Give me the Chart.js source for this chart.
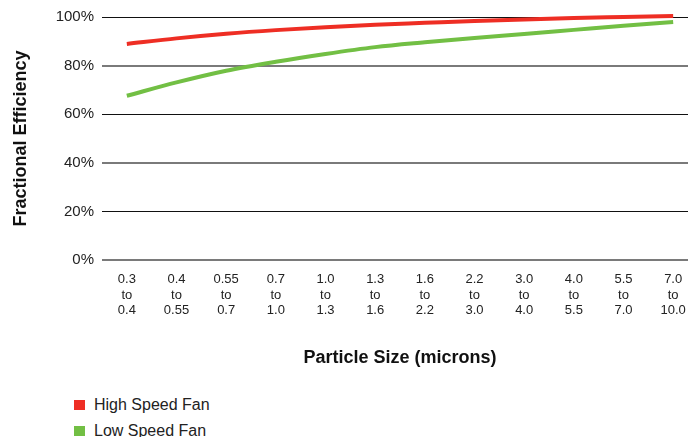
<!DOCTYPE html>
<html>
<head>
<meta charset="utf-8">
<script src="https://cdn.jsdelivr.net/npm/chart.js@4/dist/chart.umd.min.js"></script>
<style>
  html, body { margin: 0; padding: 0; background: #fff; overflow: hidden; width: 688px; height: 437px; }
  #wrap { position: relative; width: 688px; height: 437px; overflow: hidden; }
  canvas { position: absolute; left: 0; top: 0; }
  .legend-item { position: absolute; left: 74px; height: 20px; font: 16px "Liberation Sans", Arial, sans-serif; color: #222; white-space: nowrap; }
  .legend-item .box { position: absolute; left: 0; top: 5px; width: 11px; height: 10px; }
  .legend-item .txt { position: absolute; left: 20px; top: 0; line-height: 20px; }
</style>
</head>
<body>
<div id="wrap">
  <canvas class="fan-chart" width="705" height="380" style="width:705px;height:380px"></canvas>
  <div id="legend"></div>
</div>
<script>
const ctx = document.querySelector('.fan-chart');
const legendEl = document.querySelector('#legend');

const sizeLabels = [
  ['0.3', 'to', '0.4'],
  ['0.4', 'to', '0.55'],
  ['0.55', 'to', '0.7'],
  ['0.7', 'to', '1.0'],
  ['1.0', 'to', '1.3'],
  ['1.3', 'to', '1.6'],
  ['1.6', 'to', '2.2'],
  ['2.2', 'to', '3.0'],
  ['3.0', 'to', '4.0'],
  ['4.0', 'to', '5.5'],
  ['5.5', 'to', '7.0'],
  ['7.0', 'to', '10.0'],
];

const highSpeed = [88.9, 91.2, 93.1, 94.6, 95.8, 96.8, 97.6, 98.4, 99.0, 99.6, 100.0, 100.4];
const lowSpeed = [67.6, 73.1, 77.9, 81.6, 84.8, 87.6, 89.6, 91.4, 93.0, 94.7, 96.4, 97.9];

const yTicks = [0, 20, 40, 60, 80, 100];

const fontFamily = '"Liberation Sans", Arial, Helvetica, sans-serif';

Chart.defaults.font.family = fontFamily;
Chart.defaults.color = '#222';

let chart = genChart();
genLegend();

function genChart() {
  return new Chart(ctx, {
    type: 'line',
    data: {
      labels: sizeLabels,
      datasets: [
        {
          label: 'High Speed Fan',
          data: highSpeed,
          borderColor: '#ee2e24',
          backgroundColor: '#ee2e24',
        },
        {
          label: 'Low Speed Fan',
          data: lowSpeed,
          borderColor: '#72bf44',
          backgroundColor: '#72bf44',
        },
      ],
    },
    options: {
      responsive: false,
      animation: false,
      devicePixelRatio: 1,
      layout: { padding: { top: 17, right: 7, bottom: 0, left: 0 } },
      elements: {
        line: { borderWidth: 4, cubicInterpolationMode: 'monotone', borderCapStyle: 'butt' },
        point: { radius: 0 },
      },
      datasets: { line: { clip: false } },
      plugins: {
        legend: { display: false },
        tooltip: { enabled: false },
      },
      scales: {
        x: {
          offset: true,
          grid: { display: false, drawTicks: false },
          border: { display: false },
          ticks: {
            padding: 12,
            maxRotation: 0,
            autoSkip: false,
            font: { size: 13, lineHeight: 1.18 },
            color: '#222',
          },
          title: {
            display: true,
            text: 'Particle Size (microns)',
            font: { size: 18, weight: 'bold' },
            color: '#111',
            padding: { top: 0, bottom: 11 },
          },
          afterFit: (scale) => { scale.height = 120; },
        },
        y: {
          min: 0,
          max: 100,
          afterBuildTicks: (scale) => { scale.ticks = yTicks.map((v) => ({ value: v })); },
          grid: {
            drawTicks: false,
            color: (c) => (c.index % 2 === 0 ? '#7a7a7a' : '#111'),
            lineWidth: (c) => (c.index % 2 === 0 ? 2 : 1),
          },
          border: { display: false },
          ticks: {
            padding: 8,
            font: { size: 15 },
            color: '#222',
            callback: (v) => v + '%',
          },
          title: {
            display: true,
            text: 'Fractional Efficiency',
            font: { size: 18, weight: 'bold' },
            color: '#111',
            padding: { top: 10, bottom: 0 },
          },
          afterFit: (scale) => { scale.width = 102; },
        },
      },
    },
  });
}

function genLegend() {
  const tops = [395, 421];
  chart.data.datasets.forEach((ds, i) => {
    const item = document.createElement('div');
    item.className = 'legend-item';
    item.style.top = tops[i] + 'px';
    const box = document.createElement('span');
    box.className = 'box';
    box.style.background = ds.borderColor;
    const txt = document.createElement('span');
    txt.className = 'txt';
    txt.textContent = ds.label;
    item.appendChild(box);
    item.appendChild(txt);
    legendEl.appendChild(item);
  });
}
</script>
</body>
</html>
